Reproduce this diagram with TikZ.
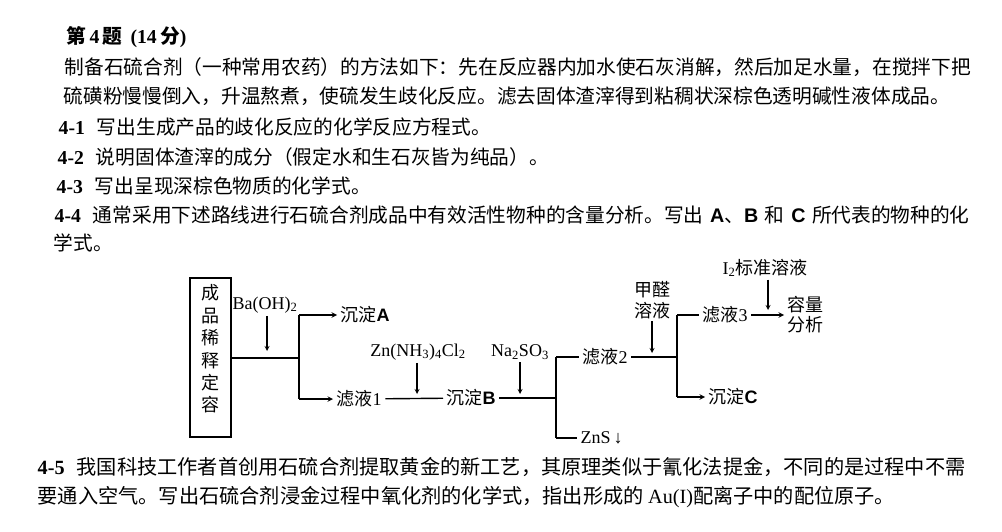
\documentclass[tikz,border=0pt]{standalone}
\usepackage{fontspec}
\setmainfont{Noto Sans CJK SC}
\newfontfamily\tm{Liberation Serif}
\newfontfamily\ar{Liberation Sans}
\XeTeXlinebreaklocale "zh"
\XeTeXlinebreakskip=0pt plus 2pt minus 0.5pt
\newcommand{\setfs}[1]{\fontsize{#1pt}{#1pt}\selectfont}
\newcommand{\qn}[1]{{\tm\bfseries #1}\hspace{12pt}}
\newcommand{\bl}[1]{{\ar\bfseries #1}}
\newcommand{\ch}[1]{{\tm #1}}
\begin{document}
\begin{tikzpicture}[x=1pt, y=-1pt, >=stealth, line width=1.4pt,
  every node/.style={inner sep=0pt},
  txtline/.style={anchor=west, font=\setfs{19.7}},
  botline/.style={anchor=west, font=\setfs{20.2}},
  prod/.style={anchor=west, inner sep=3pt, font=\setfs{18}},
  reag/.style={inner sep=2pt, align=center, font=\fontsize{18pt}{21pt}\selectfont}]
  \useasboundingbox (0,0) rectangle (1002,532);

  % 题干
  \node[txtline] (title) at (66,37) {\bfseries 第\,\ch{4}\,题\hspace{8pt}\ch{(14}\,分\ch{)}};
  \node[txtline] (p1a) at (64,67) {\makebox[902pt][s]{制备石硫合剂（一种常用农药）的方法如下：先在反应器内加水使石灰消解，然后加足水量，在搅拌下把}};
  \node[txtline] (p1b) at (63,96) {硫磺粉慢慢倒入，升温熬煮，使硫发生歧化反应。滤去固体渣滓得到粘稠状深棕色透明碱性液体成品。};
  \node[txtline] (q1) at (58,127) {\qn{4-1}写出生成产品的歧化反应的化学反应方程式。};
  \node[txtline] (q2) at (57,157) {\qn{4-2}说明固体渣滓的成分（假定水和生石灰皆为纯品）。};
  \node[txtline] (q3) at (56,186) {\qn{4-3}写出呈现深棕色物质的化学式。};
  \node[txtline] (q4a) at (54,215) {\makebox[915pt][s]{\qn{4-4}通常采用下述路线进行石硫合剂成品中有效活性物种的含量分析。写出 \bl{A}、\bl{B} 和 \bl{C} 所代表的物种的化}};
  \node[txtline] (q4b) at (53,243) {学式。};

  % 流程图
  \node[draw, line width=1.6pt, minimum width=41pt, minimum height=159pt] (box) at (210.5,357.5) {};
  \node[align=center, font=\fontsize{18pt}{22.4pt}\selectfont] (boxtxt) at (210.5,349) {成\\品\\稀\\释\\定\\容};

  \node[reag] (baoh) at (265,305) {\ch{Ba(OH)\textsubscript{2}}};
  \node[reag] (znam) at (418,352) {\ch{Zn(NH\textsubscript{3})\textsubscript{4}Cl\textsubscript{2}}};
  \node[reag] (naso) at (520,352) {\ch{Na\textsubscript{2}SO\textsubscript{3}}};
  \node[reag] (hcho) at (652,300) {甲醛\\溶液};
  \node[reag] (iod) at (765,268) {\ch{I\textsubscript{2}}标准溶液};

  \node[prod] (sdA) at (337,315) {沉淀\bl{A}};
  \node[prod] (lv1) at (333,399) {滤液\ch{1}};
  \node[prod] (sdB) at (443,398) {沉淀\bl{B}};
  \node[prod] (lv2) at (579,357) {滤液\ch{2}};
  \node[prod] (zns) at (577,438) {\ch{ZnS\,↓}};
  \node[prod] (lv3) at (699,315) {滤液\ch{3}};
  \node[prod] (sdC) at (705,397) {沉淀\bl{C}};
  \node[prod, align=center, font=\fontsize{18pt}{20pt}\selectfont] (rl) at (784,315) {容量\\分析};

  \coordinate (j1) at (299,358);
  \coordinate (j1a) at (299,315);
  \coordinate (j1b) at (299,399);
  \coordinate (j2) at (556,398);
  \coordinate (j2a) at (556,357);
  \coordinate (j2b) at (556,438);
  \coordinate (j3) at (677,357);
  \coordinate (j3a) at (677,315);
  \coordinate (j3b) at (677,397);
  \coordinate (t1) at (267,351);
  \coordinate (t2) at (417,394);
  \coordinate (t3) at (520,394);
  \coordinate (t4) at (652,353);
  \coordinate (t5) at (768,310);

  \draw (box.east |- j1) -- (j1);
  \foreach \a/\b in {j1a/j1b, j2a/j2b, j3a/j3b}
    \draw (\a) -- (\b);
  \draw[->] (j1a) -- (sdA);
  \draw[->] (j1b) -- (lv1);
  \draw (lv1) -- (sdB);
  \draw (sdB) -- (j2);
  \draw (j2a) -- (lv2);
  \draw (j2b) -- (zns);
  \draw (lv2) -- (j3);
  \draw (j3a) -- (lv3);
  \draw[->] (j3b) -- (sdC);
  \draw[->] (lv3) -- (rl);
  \foreach \r/\t in {baoh/t1, znam/t2, naso/t3, hcho/t4, iod/t5}
    \draw[->, line width=1.2pt] (\r.south -| \t) -- (\t);

  % 4-5
  \node[botline] (q5a) at (37,467) {\makebox[931pt][s]{\qn{4-5}我国科技工作者首创用石硫合剂提取黄金的新工艺，其原理类似于氰化法提金，不同的是过程中不需}};
  \node[botline] (q5b) at (37,497) {要通入空气。写出石硫合剂浸金过程中氧化剂的化学式，指出形成的 \ch{Au(I)}配离子中的配位原子。};
\end{tikzpicture}
\end{document}
